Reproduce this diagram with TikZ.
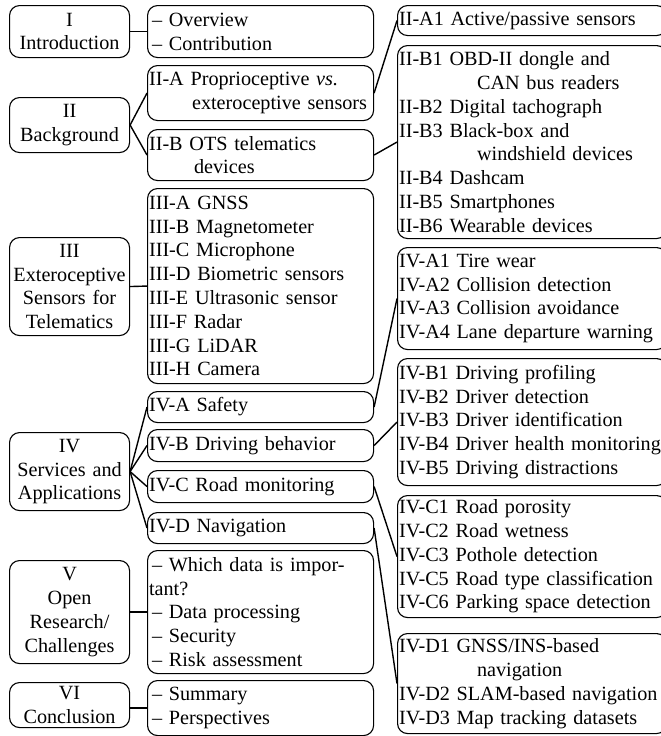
\documentclass[tikz,border=0pt]{standalone}
\usepackage{fontspec}
\setmainfont{Liberation Serif}
\begin{document}
\begin{tikzpicture}[x=1pt,y=-1pt,
  box/.style={draw, line width=1.1pt, rounded corners=10pt, anchor=north west, inner xsep=1.5pt, inner ysep=0pt, font=\fontsize{20.2}{23.8}\selectfont},
  c1/.style={box, text width=117pt, align=center},
  c2/.style={box, text width=223pt, align=left},
  c3/.style={box, text width=266pt, align=left},
  link/.style={line width=1.4pt}]
\useasboundingbox (0,0) rectangle (661,736);

% column 1
\node[c1, minimum height=52pt] (sI) at (9,5) {I\\Introduction};
\node[c1, minimum height=55pt] (sII) at (9,97) {II\\Background};
\node[c1, minimum height=98pt] (sIII) at (9,237) {III\\Exteroceptive\\Sensors for\\Telematics};
\node[c1, minimum height=78pt] (sIV) at (9,432) {IV\\Services and\\Applications};
\node[c1, minimum height=103pt] (sV) at (9,560) {V\\Open\\Research/\\Challenges};
\node[c1, minimum height=45pt] (sVI) at (9,682) {VI\\Conclusion};

% column 2
\node[c2, minimum height=52pt] (lI) at (147,5) {\hspace*{3pt}– Overview\\\hspace*{3pt}– Contribution};
\node[c2, minimum height=55pt] (lIIA) at (147,65) {II-A Proprioceptive \textit{vs.}\\\hspace*{43pt}exteroceptive sensors};
\node[c2, minimum height=51pt] (lIIB) at (147,129) {II-B OTS telematics\\\hspace*{45pt}devices};
\node[c2, minimum height=195pt] (lIII) at (147,188) {III-A GNSS\\III-B Magnetometer\\III-C Microphone\\III-D Biometric sensors\\III-E Ultrasonic sensor\\III-F Radar\\III-G LiDAR\\III-H Camera};
\node[c2, minimum height=31pt] (lIVA) at (147,391) {IV-A Safety};
\node[c2, minimum height=32pt] (lIVB) at (147,429) {IV-B Driving behavior};
\node[c2, minimum height=32pt] (lIVC) at (147,470) {IV-C Road monitoring};
\node[c2, minimum height=31pt] (lIVD) at (147,512) {IV-D Navigation};
\node[c2, minimum height=123pt] (lV) at (147,550) {\hspace*{3pt}\makebox[196pt][s]{– Which data is impor-}\\tant?\\\hspace*{3pt}– Data processing\\\hspace*{3pt}– Security\\\hspace*{3pt}– Risk assessment};
\node[c2, minimum height=55pt] (lVI) at (147,680) {\hspace*{3pt}– Summary\\\hspace*{3pt}– Perspectives};

% column 3
\node[c3, minimum height=30pt] (rIIA) at (397,5) {II-A1 Active/passive sensors};
\node[c3, minimum height=193pt] (rIIB) at (397,45) {II-B1 OBD-II dongle and\\\hspace*{78pt}CAN bus readers\\II-B2 Digital tachograph\\II-B3 Black-box and\\\hspace*{78pt}windshield devices\\II-B4 Dashcam\\II-B5 Smartphones\\II-B6 Wearable devices};
\node[c3, minimum height=102pt] (rIVA) at (397,247) {IV-A1 Tire wear\\IV-A2 Collision detection\\IV-A3 Collision avoidance\\IV-A4 Lane departure warning};
\node[c3, minimum height=127pt] (rIVB) at (397,358) {IV-B1 Driving profiling\\IV-B2 Driver detection\\IV-B3 Driver identification\\IV-B4 Driver health monitoring\\IV-B5 Driving distractions};
\node[c3, minimum height=122pt] (rIVC) at (397,495) {IV-C1 Road porosity\\IV-C2 Road wetness\\IV-C3 Pothole detection\\IV-C5 Road type classification\\IV-C6 Parking space detection};
\node[c3, minimum height=100pt] (rIVD) at (397,633) {IV-D1 GNSS/INS-based\\\hspace*{78pt}navigation\\IV-D2 SLAM-based navigation\\IV-D3 Map tracking datasets};

% connectors
\draw[link] (sI.east) -- (lI.west);
\draw[link] (sII.east) -- (lIIA.west);
\draw[link] (sII.east) -- (lIIB.west);
\draw[link] (lIIA.east) -- (rIIA.west);
\draw[link] (lIIB.east) -- (rIIB.west);
\draw[link] (sIII.east) -- (lIII.west);
\draw[link] (sIV.east) -- (lIVA.west);
\draw[link] (sIV.east) -- (lIVB.west);
\draw[link] (sIV.east) -- (lIVC.west);
\draw[link] (sIV.east) -- (lIVD.west);
\draw[link] (lIVA.east) -- (rIVA.west);
\draw[link] (lIVB.east) -- (rIVB.west);
\draw[link] (lIVC.east) -- (rIVC.west);
\draw[link] (lIVD.east) -- (rIVD.west);
\draw[link] (sV.east) -- (lV.west);
\draw[link] (sVI.east |- lVI.west) -- (lVI.west);
\end{tikzpicture}
\end{document}
